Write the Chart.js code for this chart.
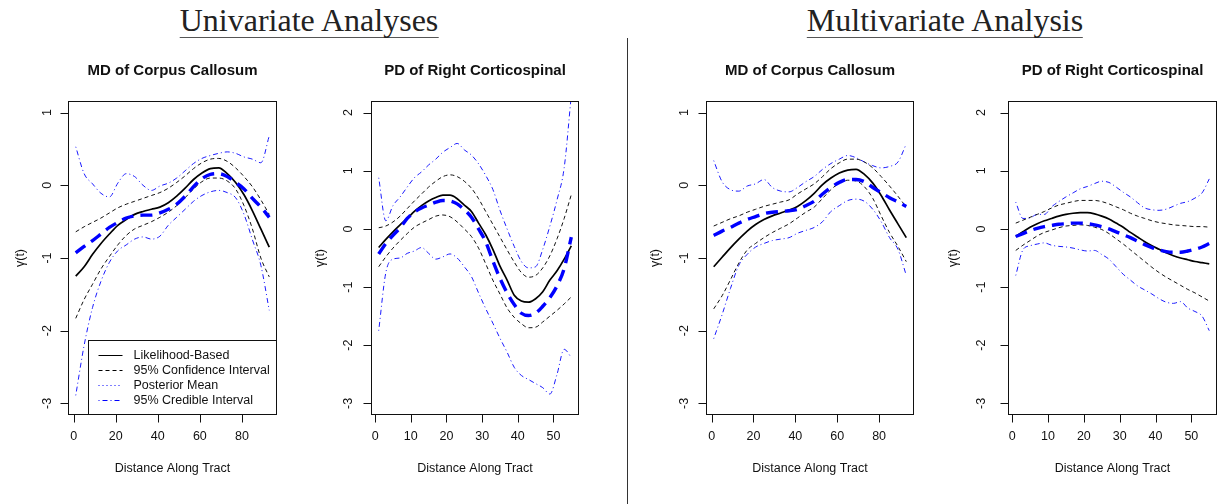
<!DOCTYPE html>
<html>
<head>
<meta charset="utf-8">
<script src="https://cdn.jsdelivr.net/npm/chart.js@4.4.1/dist/chart.umd.min.js"></script>
<style>
  html, body { margin: 0; padding: 0; background: #fff; }
  body { width: 1218px; height: 504px; position: relative; overflow: hidden; }
  .panel { position: absolute; top: 0; height: 504px; }
  .head {
    position: absolute; top: 3px; transform: translateX(-50%);
    font-family: "Liberation Serif", "Times New Roman", serif; font-size: 32px; line-height: 34px;
    color: #222; white-space: nowrap; border-bottom: 1.5px solid #555;
  }
  .divider { position: absolute; left: 627px; top: 38px; width: 1px; height: 466px; background: #333; }
</style>
</head>
<body>
<div class="head" style="left:309px">Univariate Analyses</div>
<div class="head" style="left:945px">Multivariate Analysis</div>
<div class="divider"></div>
<div class="panel" style="left:0px;width:310px"><canvas id="c1" width="310" height="504"></canvas></div>
<div class="panel" style="left:310px;width:310px"><canvas id="c2" width="310" height="504"></canvas></div>
<div class="panel" style="left:630px;width:300px"><canvas id="c3" width="300" height="504"></canvas></div>
<div class="panel" style="left:930px;width:288px"><canvas id="c4" width="288" height="504"></canvas></div>
<script>
// Positions along the tract
const xCorpus = [1, 5, 9, 13, 17, 21, 25, 29, 33, 37, 41, 45, 49, 53, 57, 61, 65, 69, 73, 77, 81, 85, 89, 93];
const xCortico = [1, 3, 5, 7, 9, 11, 13, 15, 17, 19, 21, 23, 25, 27, 29, 31, 33, 35, 37, 39, 41, 43, 45, 47, 49, 51, 53, 55];

// Axis ticks and limits
const xTicksCorpus = [0, 20, 40, 60, 80];
const xTicksCortico = [0, 10, 20, 30, 40, 50];
const yTicksCorpus = [-3, -2, -1, 0, 1];
const yTicksCortico = [-3, -2, -1, 0, 1, 2];
const yLimCorpus = [-3, 1];
const yLimCortico = [-3, 2];

// Univariate - MD of Corpus Callosum
const uniCcFit  = [-1.25, -1.12, -0.95, -0.8, -0.67, -0.55, -0.47, -0.4, -0.36, -0.33, -0.3, -0.24, -0.15, -0.04, 0.08, 0.17, 0.23, 0.24, 0.16, 0.04, -0.13, -0.35, -0.6, -0.85];
const uniCcCiHi = [-0.64, -0.57, -0.51, -0.45, -0.38, -0.31, -0.26, -0.22, -0.18, -0.14, -0.1, -0.04, 0.04, 0.13, 0.23, 0.31, 0.36, 0.37, 0.33, 0.24, 0.12, -0.02, -0.2, -0.4];
const uniCcCiLo = [-1.83, -1.57, -1.36, -1.15, -0.98, -0.82, -0.69, -0.6, -0.55, -0.5, -0.44, -0.37, -0.28, -0.17, -0.05, 0.05, 0.1, 0.1, 0.06, -0.05, -0.28, -0.6, -1.0, -1.26];
const uniCcPost = [-0.93, -0.84, -0.76, -0.67, -0.58, -0.51, -0.45, -0.42, -0.41, -0.41, -0.38, -0.33, -0.26, -0.15, -0.02, 0.09, 0.15, 0.16, 0.12, 0.04, -0.05, -0.18, -0.3, -0.44];
const uniCcCrHi = [0.53, 0.16, 0.02, -0.11, -0.16, 0.03, 0.16, 0.12, 0.0, -0.07, -0.01, 0.03, 0.1, 0.2, 0.3, 0.37, 0.41, 0.44, 0.46, 0.44, 0.39, 0.36, 0.31, 0.68];
const uniCcCrLo = [-2.89, -2.2, -1.68, -1.32, -1.06, -0.9, -0.82, -0.74, -0.71, -0.74, -0.7, -0.55, -0.44, -0.33, -0.22, -0.14, -0.09, -0.07, -0.1, -0.17, -0.4, -0.75, -1.1, -1.72];

// Univariate - PD of Right Corticospinal
const uniCsFit  = [-0.32, -0.18, -0.05, 0.07, 0.18, 0.3, 0.4, 0.48, 0.54, 0.58, 0.58, 0.52, 0.41, 0.3, 0.1, -0.1, -0.35, -0.64, -0.88, -1.14, -1.24, -1.26, -1.2, -1.08, -0.88, -0.72, -0.52, -0.29];
const uniCsCiHi = [0.02, 0.05, 0.12, 0.22, 0.35, 0.48, 0.6, 0.72, 0.82, 0.9, 0.93, 0.9, 0.82, 0.7, 0.52, 0.3, 0.08, -0.14, -0.36, -0.57, -0.75, -0.83, -0.8, -0.67, -0.46, -0.17, 0.18, 0.59];
const uniCsCiLo = [-0.65, -0.48, -0.33, -0.2, -0.08, 0.03, 0.1, 0.16, 0.22, 0.24, 0.21, 0.12, 0.0, -0.13, -0.33, -0.6, -0.88, -1.12, -1.36, -1.52, -1.63, -1.7, -1.69, -1.6, -1.5, -1.4, -1.29, -1.17];
const uniCsPost = [-0.43, -0.25, -0.11, 0.02, 0.18, 0.29, 0.36, 0.41, 0.46, 0.49, 0.48, 0.43, 0.33, 0.2, 0.0, -0.22, -0.55, -0.85, -1.1, -1.3, -1.45, -1.49, -1.45, -1.33, -1.18, -0.98, -0.68, -0.14];
const uniCsCrHi = [0.88, 0.14, 0.4, 0.55, 0.72, 0.88, 0.98, 1.1, 1.2, 1.32, 1.4, 1.47, 1.36, 1.27, 1.12, 0.92, 0.68, 0.32, 0.0, -0.3, -0.56, -0.67, -0.65, -0.35, 0.05, 0.5, 1.05, 2.3];
const uniCsCrLo = [-1.75, -0.75, -0.52, -0.5, -0.42, -0.38, -0.32, -0.42, -0.52, -0.48, -0.43, -0.5, -0.65, -0.82, -1.1, -1.37, -1.62, -1.88, -2.12, -2.38, -2.52, -2.59, -2.66, -2.73, -2.84, -2.5, -2.07, -2.21];

// Multivariate - MD of Corpus Callosum
const mvCcFit  = [-1.12, -0.99, -0.86, -0.74, -0.63, -0.54, -0.47, -0.42, -0.38, -0.34, -0.29, -0.21, -0.11, 0.01, 0.1, 0.17, 0.21, 0.22, 0.15, 0.03, -0.14, -0.34, -0.53, -0.72];
const mvCcCiHi = [-0.56, -0.51, -0.46, -0.42, -0.37, -0.33, -0.29, -0.26, -0.23, -0.2, -0.12, -0.05, 0.02, 0.12, 0.23, 0.31, 0.36, 0.36, 0.32, 0.24, 0.12, -0.01, -0.15, -0.3];
const mvCcCiLo = [-1.7, -1.52, -1.3, -1.07, -0.89, -0.8, -0.72, -0.65, -0.59, -0.53, -0.45, -0.37, -0.3, -0.18, -0.06, 0.03, 0.07, 0.06, -0.02, -0.18, -0.42, -0.65, -0.84, -1.05];
const mvCcPost = [-0.69, -0.63, -0.58, -0.52, -0.47, -0.43, -0.39, -0.37, -0.36, -0.35, -0.33, -0.28, -0.22, -0.12, -0.03, 0.04, 0.08, 0.08, 0.05, -0.03, -0.1, -0.17, -0.23, -0.29];
const mvCcCrHi = [0.34, 0.05, -0.06, -0.08, -0.01, 0.02, 0.08, -0.03, -0.08, -0.09, -0.03, 0.05, 0.12, 0.22, 0.3, 0.36, 0.41, 0.38, 0.32, 0.27, 0.24, 0.26, 0.32, 0.57];
const mvCcCrLo = [-2.11, -1.78, -1.42, -1.1, -0.95, -0.85, -0.8, -0.76, -0.74, -0.72, -0.66, -0.62, -0.58, -0.5, -0.36, -0.28, -0.21, -0.19, -0.22, -0.33, -0.5, -0.72, -0.88, -1.24];

// Multivariate - PD of Right Corticospinal
const mvCsFit  = [-0.13, -0.05, 0.03, 0.09, 0.14, 0.18, 0.22, 0.25, 0.27, 0.28, 0.28, 0.26, 0.22, 0.17, 0.1, 0.03, -0.06, -0.14, -0.22, -0.29, -0.35, -0.41, -0.46, -0.5, -0.53, -0.56, -0.58, -0.6];
const mvCsCiHi = [0.1, 0.15, 0.2, 0.25, 0.3, 0.36, 0.41, 0.44, 0.47, 0.49, 0.49, 0.49, 0.47, 0.43, 0.38, 0.33, 0.27, 0.22, 0.18, 0.14, 0.11, 0.09, 0.07, 0.06, 0.05, 0.04, 0.04, 0.03];
const mvCsCiLo = [-0.37, -0.28, -0.2, -0.12, -0.06, -0.02, 0.02, 0.05, 0.06, 0.07, 0.06, 0.03, -0.01, -0.08, -0.17, -0.26, -0.36, -0.46, -0.56, -0.66, -0.75, -0.83, -0.9, -0.97, -1.04, -1.1, -1.17, -1.24];
const mvCsPost = [-0.13, -0.08, -0.03, 0.01, 0.04, 0.06, 0.08, 0.09, 0.1, 0.1, 0.09, 0.07, 0.04, 0.0, -0.05, -0.1, -0.15, -0.21, -0.27, -0.32, -0.36, -0.39, -0.4, -0.4, -0.38, -0.35, -0.31, -0.25];
const mvCsCrHi = [0.46, 0.18, 0.19, 0.25, 0.25, 0.38, 0.47, 0.55, 0.62, 0.69, 0.73, 0.78, 0.82, 0.8, 0.72, 0.63, 0.55, 0.45, 0.36, 0.33, 0.32, 0.34, 0.39, 0.44, 0.47, 0.53, 0.62, 0.86];
const mvCsCrLo = [-0.8, -0.36, -0.29, -0.26, -0.24, -0.28, -0.3, -0.31, -0.33, -0.36, -0.38, -0.37, -0.44, -0.52, -0.65, -0.78, -0.88, -0.98, -1.05, -1.12, -1.2, -1.26, -1.28, -1.25, -1.36, -1.42, -1.5, -1.75];

// Legend entries (as printed in the original figure)
const legendLabels = ['Likelihood-Based', '95% Confidence Interval', 'Posterior Mean', '95% Credible Interval'];
const legendColors = ['#000', '#000', '#0000ff', '#0000ff'];
const legendDashes = [[], [4, 3], [1, 3], [1, 3, 5, 3]];

const FONT = '"Liberation Sans", Arial, Helvetica, sans-serif';

// R style axes: box, outside ticks, rotated y labels, titles and legend
const rAxes = {
    id: 'rAxes',
    afterDraw(chart, args, o) {
        const { ctx, chartArea: a } = chart;
        const xs = chart.scales.x, ys = chart.scales.y;
        const L = Math.round(a.left) + 0.5, R = Math.round(a.right) - 0.5;
        const T = Math.round(a.top) + 0.5, B = Math.round(a.bottom) - 0.5;
        ctx.save();
        ctx.strokeStyle = '#111';
        ctx.lineWidth = 1;
        ctx.strokeRect(L, T, R - L, B - T);

        ctx.fillStyle = '#111';
        ctx.font = '12.5px ' + FONT;
        ctx.textAlign = 'center';
        ctx.textBaseline = 'middle';

        // x axis
        ctx.beginPath();
        o.xTicks.forEach(v => {
            const px = Math.round(xs.getPixelForValue(v)) + 0.5;
            ctx.moveTo(px, B);
            ctx.lineTo(px, B + 8);
        });
        ctx.stroke();
        o.xTicks.forEach(v => ctx.fillText(String(v), xs.getPixelForValue(v), B + 22));

        // y axis
        ctx.beginPath();
        o.yTicks.forEach(v => {
            const py = Math.round(ys.getPixelForValue(v)) + 0.5;
            ctx.moveTo(L - 8, py);
            ctx.lineTo(L, py);
        });
        ctx.stroke();
        o.yTicks.forEach(v => {
            ctx.save();
            ctx.translate(L - o.yLabOff, ys.getPixelForValue(v));
            ctx.rotate(-Math.PI / 2);
            ctx.fillText(String(v), 0, 0);
            ctx.restore();
        });

        // axis titles
        const cx = (a.left + a.right) / 2;
        ctx.fillText('Distance Along Tract', cx, 469);
        ctx.save();
        ctx.translate(L - o.yTitleOff, (a.top + a.bottom) / 2);
        ctx.rotate(-Math.PI / 2);
        ctx.fillText('γ(t)', 0, 0);
        ctx.restore();

        // panel title
        ctx.font = 'bold 15px ' + FONT;
        ctx.fillText(o.title, cx, 71);

        // legend
        if (o.legend) {
            const lx = Math.round(a.left + 20) + 0.5, ly = Math.round(a.bottom - 75) + 0.5;
            ctx.fillStyle = '#fff';
            ctx.fillRect(lx, ly, R - lx, B - ly);
            ctx.strokeStyle = '#111';
            ctx.setLineDash([]);
            ctx.strokeRect(lx, ly, R - lx, B - ly);
            ctx.font = '12.5px ' + FONT;
            ctx.textAlign = 'left';
            legendLabels.forEach((lab, i) => {
                const yy = Math.round(ly + 14 + i * 15.2) + 0.5;
                ctx.strokeStyle = legendColors[i];
                ctx.setLineDash(legendDashes[i]);
                ctx.beginPath();
                ctx.moveTo(lx + 10, yy);
                ctx.lineTo(lx + 34, yy);
                ctx.stroke();
                ctx.fillStyle = '#111';
                ctx.fillText(lab, lx + 45, yy);
            });
        }
        ctx.restore();
    }
};

function makeDatasets(xs, fit, ciLo, ciHi, post, crLo, crHi) {
    const pts = vals => xs.map((x, i) => ({ x: x, y: vals[i] }));
    const base = { pointRadius: 0, cubicInterpolationMode: 'monotone', clip: 0, fill: false };
    return [
        { ...base, label: 'Posterior Mean', data: pts(post), borderColor: '#0000ff', borderWidth: 3.4, borderDash: [12, 7], order: 0 },
        { ...base, label: 'Likelihood-Based', data: pts(fit), borderColor: '#000', borderWidth: 1.7, order: 1 },
        { ...base, label: '95% CI upper', data: pts(ciHi), borderColor: '#111', borderWidth: 1, borderDash: [4, 3], order: 2 },
        { ...base, label: '95% CI lower', data: pts(ciLo), borderColor: '#111', borderWidth: 1, borderDash: [4, 3], order: 2 },
        { ...base, label: '95% CrI upper', data: pts(crHi), borderColor: '#1a1aff', borderWidth: 1, borderDash: [1, 3, 5, 3], order: 3 },
        { ...base, label: '95% CrI lower', data: pts(crLo), borderColor: '#1a1aff', borderWidth: 1, borderDash: [1, 3, 5, 3], order: 3 }
    ];
}

// R pads axis ranges by 4% on each side
function padRange(lo, hi) {
    const d = (hi - lo) * 0.04;
    return [lo - d, hi + d];
}

const panels = [
    { id: 'c1', title: 'MD of Corpus Callosum', xs: xCorpus, xTicks: xTicksCorpus, yLim: yLimCorpus, yTicks: yTicksCorpus,
      sets: makeDatasets(xCorpus, uniCcFit, uniCcCiLo, uniCcCiHi, uniCcPost, uniCcCrLo, uniCcCrHi),
      pad: { left: 68, right: 33 }, yLabOff: 21, yTitleOff: 48, legend: true },
    { id: 'c2', title: 'PD of Right Corticospinal', xs: xCortico, xTicks: xTicksCortico, yLim: yLimCortico, yTicks: yTicksCortico,
      sets: makeDatasets(xCortico, uniCsFit, uniCsCiLo, uniCsCiHi, uniCsPost, uniCsCrLo, uniCsCrHi),
      pad: { left: 61, right: 41 }, yLabOff: 23, yTitleOff: 51, legend: false },
    { id: 'c3', title: 'MD of Corpus Callosum', xs: xCorpus, xTicks: xTicksCorpus, yLim: yLimCorpus, yTicks: yTicksCorpus,
      sets: makeDatasets(xCorpus, mvCcFit, mvCcCiLo, mvCcCiHi, mvCcPost, mvCcCrLo, mvCcCrHi),
      pad: { left: 76, right: 16 }, yLabOff: 22, yTitleOff: 51, legend: false },
    { id: 'c4', title: 'PD of Right Corticospinal', xs: xCortico, xTicks: xTicksCortico, yLim: yLimCortico, yTicks: yTicksCortico,
      sets: makeDatasets(xCortico, mvCsFit, mvCsCiLo, mvCsCiHi, mvCsPost, mvCsCrLo, mvCsCrHi),
      pad: { left: 78, right: 1 }, yLabOff: 27, yTitleOff: 55, legend: false }
];

panels.forEach(p => {
    const xr = padRange(p.xs[0], p.xs[p.xs.length - 1]);
    const yr = padRange(p.yLim[0], p.yLim[1]);
    new Chart(document.getElementById(p.id), {
        type: 'line',
        data: { datasets: p.sets },
        options: {
            responsive: false,
            animation: false,
            devicePixelRatio: 1,
            layout: { padding: { top: 101, bottom: 89, left: p.pad.left, right: p.pad.right } },
            scales: {
                x: { type: 'linear', min: xr[0], max: xr[1], display: false },
                y: { type: 'linear', min: yr[0], max: yr[1], display: false }
            },
            plugins: {
                legend: { display: false },
                tooltip: { enabled: false },
                rAxes: { title: p.title, xTicks: p.xTicks, yTicks: p.yTicks, yLabOff: p.yLabOff, yTitleOff: p.yTitleOff, legend: p.legend }
            }
        },
        plugins: [rAxes]
    });
});
</script>
</body>
</html>
